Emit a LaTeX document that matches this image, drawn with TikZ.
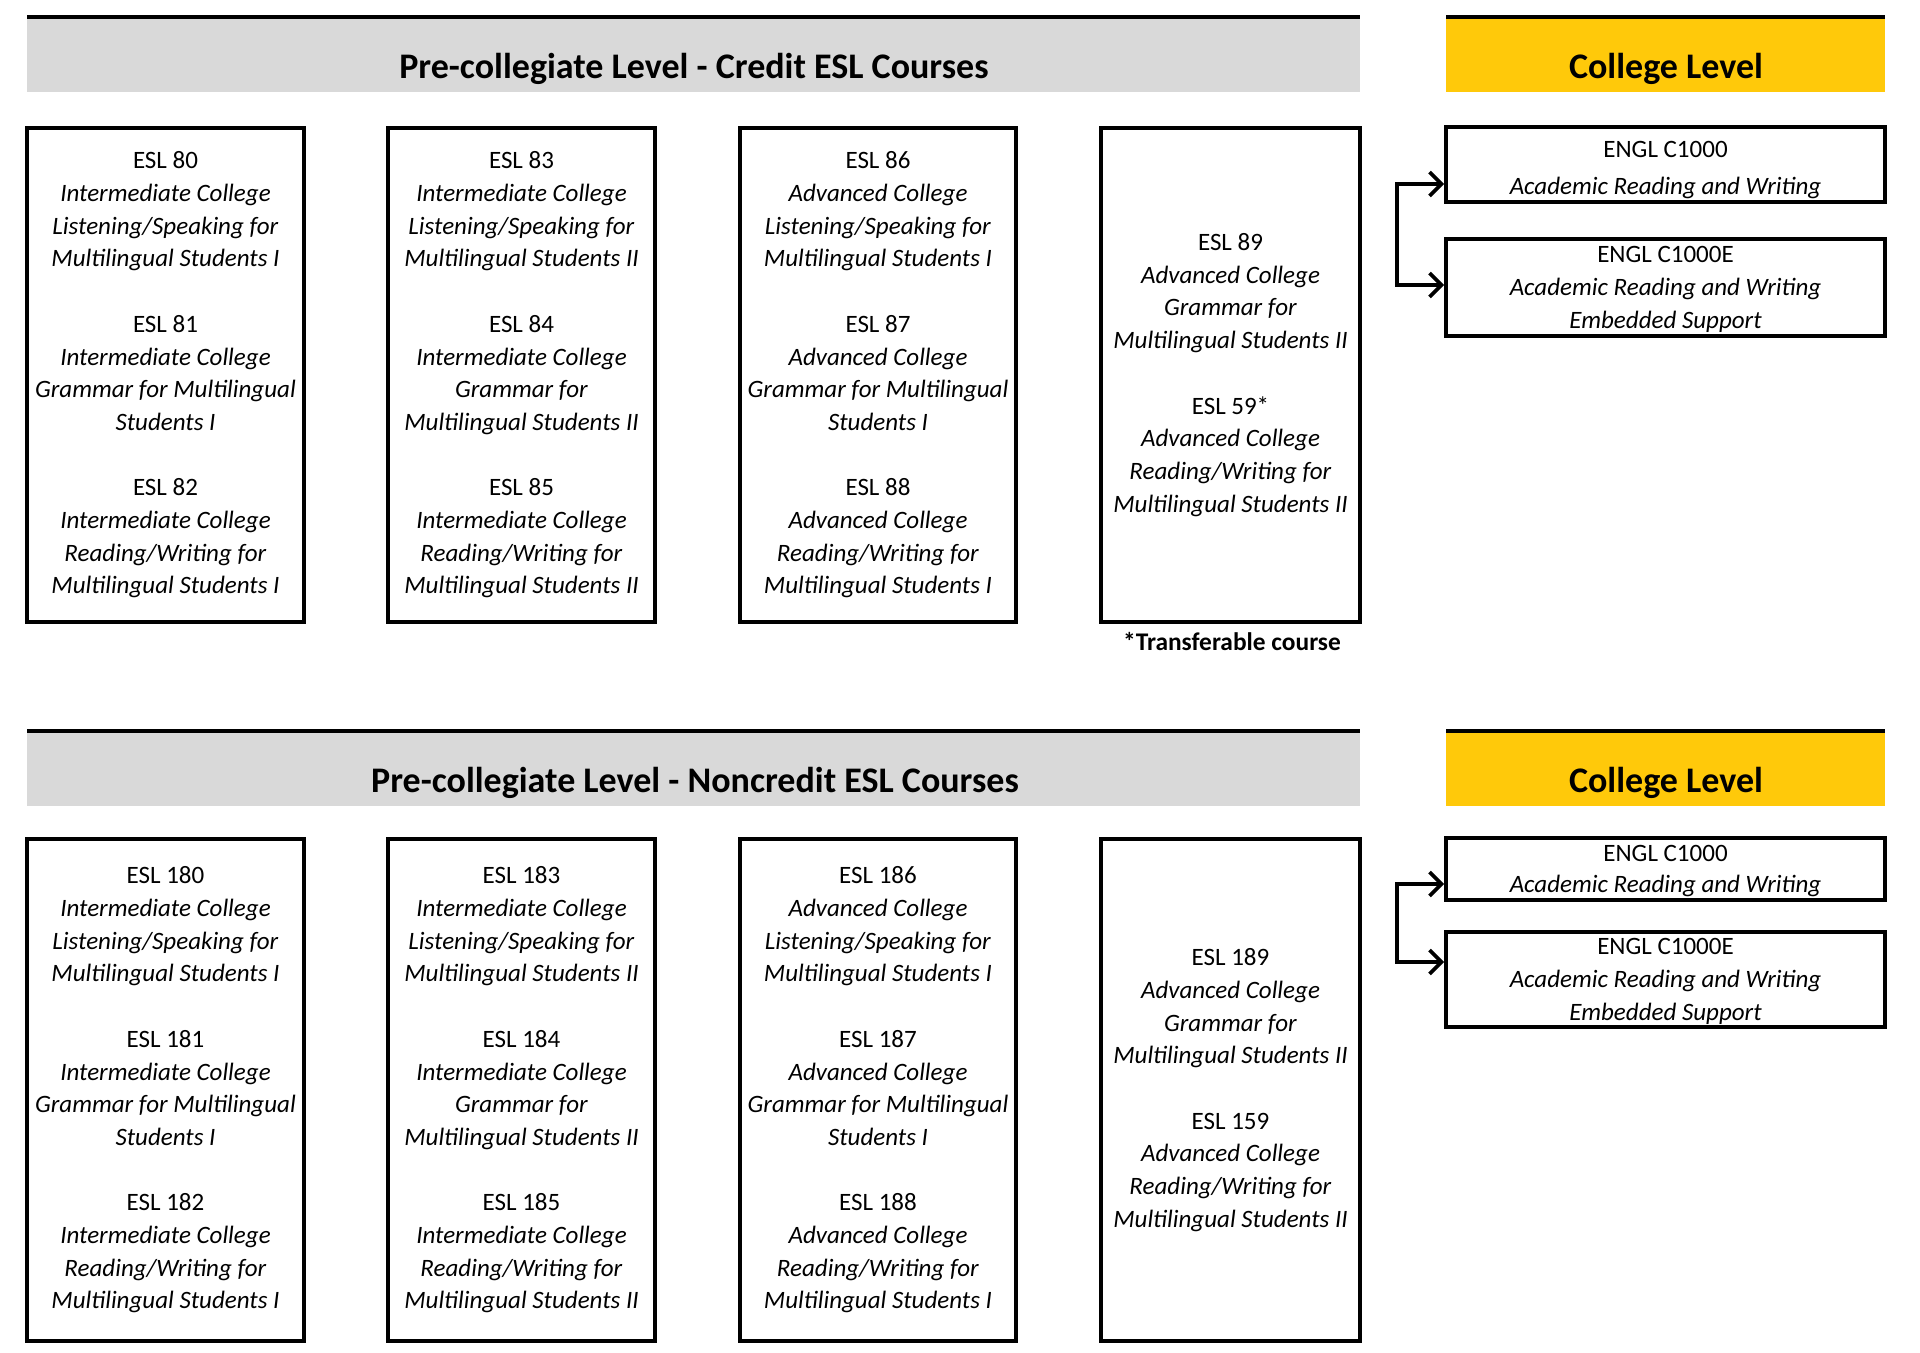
\documentclass[tikz,border=0pt]{standalone}
\usepackage{fontspec}
\setmainfont{Carlito}
\usetikzlibrary{arrows.meta}
\definecolor{bandgrey}{HTML}{D9D9D9}
\definecolor{bandgold}{HTML}{FFC90A}
\begin{document}
\begin{tikzpicture}[x=0.5pt,y=-0.5pt,
  course/.style={draw, line width=1.8pt, align=center, inner sep=0pt, font=\fontsize{12.5}{16.35}\selectfont},
  greyband/.style={fill=bandgrey, inner sep=0pt, outer sep=0pt, minimum width=666.5pt, minimum height=37.5pt},
  goldband/.style={fill=bandgold, inner sep=0pt, outer sep=0pt, minimum width=219.5pt, minimum height=37.5pt},
  topline/.style={line width=1.6pt},
  title/.style={font=\fontsize{18}{21}\selectfont\bfseries, inner sep=0pt},
  note/.style={font=\fontsize{12.7}{15}\selectfont\bfseries, inner sep=0pt},
  link/.style={line width=1.9pt, line join=miter, {Straight Barb[length=6pt,width=12pt]}-{Straight Barb[length=6pt,width=12pt]}},
  wA/.style={minimum width=138.5pt}, wB/.style={minimum width=133.5pt},
  wC/.style={minimum width=138pt}, wD/.style={minimum width=129.5pt},
  wR/.style={minimum width=219.5pt},
  hRow1/.style={minimum height=247pt}, hRow2/.style={minimum height=251pt}
]
\useasboundingbox[fill=white] (0,0) rectangle (1920,1353);

% ---------- headers ----------
\node[greyband] (g1) at (693.5,54.5) {};
\draw[topline] (g1.north west) -- (g1.north east);
\node[title] (t1) at (694,69) {Pre-collegiate Level - Credit ESL Courses};
\node[goldband] (y1) at (1665.5,54.5) {};
\draw[topline] (y1.north west) -- (y1.north east);
\node[title] (ty1) at (1666,69) {College Level};

\node[greyband] (g2) at (693.5,768.5) {};
\draw[topline] (g2.north west) -- (g2.north east);
\node[title] (t2) at (695,783) {Pre-collegiate Level - Noncredit ESL Courses};
\node[goldband] (y2) at (1665.5,768.5) {};
\draw[topline] (y2.north west) -- (y2.north east);
\node[title] (ty2) at (1666,783) {College Level};

% ---------- row 1 ----------
\node[course,wA,hRow1] (a1) at (165.5,375) {ESL 80\\ \textit{Intermediate College}\\ \textit{Listening/Speaking for}\\ \textit{Multilingual Students I}\\[16.35pt]
ESL 81\\ \textit{Intermediate College}\\ \textit{Grammar for Multilingual}\\ \textit{Students I}\\[16.35pt]
ESL 82\\ \textit{Intermediate College}\\ \textit{Reading/Writing for}\\ \textit{Multilingual Students I}};

\node[course,wB,hRow1] (b1) at (521.5,375) {ESL 83\\ \textit{Intermediate College}\\ \textit{Listening/Speaking for}\\ \textit{Multilingual Students II}\\[16.35pt]
ESL 84\\ \textit{Intermediate College}\\ \textit{Grammar for}\\ \textit{Multilingual Students II}\\[16.35pt]
ESL 85\\ \textit{Intermediate College}\\ \textit{Reading/Writing for}\\ \textit{Multilingual Students II}};

\node[course,wC,hRow1] (c1) at (878,375) {ESL 86\\ \textit{Advanced College}\\ \textit{Listening/Speaking for}\\ \textit{Multilingual Students I}\\[16.35pt]
ESL 87\\ \textit{Advanced College}\\ \textit{Grammar for Multilingual}\\ \textit{Students I}\\[16.35pt]
ESL 88\\ \textit{Advanced College}\\ \textit{Reading/Writing for}\\ \textit{Multilingual Students I}};

\node[course,wD,hRow1] (d1) at (1230.5,375) {ESL 89\\ \textit{Advanced College}\\ \textit{Grammar for}\\ \textit{Multilingual Students II}\\[16.35pt]
ESL 59*\\ \textit{Advanced College}\\ \textit{Reading/Writing for}\\ \textit{Multilingual Students II}};

\node[note] (n1) at (1232,642) {*Transferable course};

\node[course,wR,minimum height=37.5pt] (e1) at (1665.5,164.5) {\rule{0pt}{14pt}ENGL C1000\\[2.2pt] \textit{Academic Reading and Writing}};
\node[course,wR,minimum height=48.5pt] (f1) at (1665.5,287.5) {\rule{0pt}{10pt}ENGL C1000E\\ \textit{Academic Reading and Writing}\\ \textit{Embedded Support}};

\coordinate (j1) at (1397,184);
\coordinate (k1) at (1397,285);
\draw[link] (e1.west |- j1) -- (j1) -- (k1) -- (f1.west |- k1);

% ---------- row 2 ----------
\node[course,wA,hRow2] (a2) at (165.5,1090) {ESL 180\\ \textit{Intermediate College}\\ \textit{Listening/Speaking for}\\ \textit{Multilingual Students I}\\[16.35pt]
ESL 181\\ \textit{Intermediate College}\\ \textit{Grammar for Multilingual}\\ \textit{Students I}\\[16.35pt]
ESL 182\\ \textit{Intermediate College}\\ \textit{Reading/Writing for}\\ \textit{Multilingual Students I}};

\node[course,wB,hRow2] (b2) at (521.5,1090) {ESL 183\\ \textit{Intermediate College}\\ \textit{Listening/Speaking for}\\ \textit{Multilingual Students II}\\[16.35pt]
ESL 184\\ \textit{Intermediate College}\\ \textit{Grammar for}\\ \textit{Multilingual Students II}\\[16.35pt]
ESL 185\\ \textit{Intermediate College}\\ \textit{Reading/Writing for}\\ \textit{Multilingual Students II}};

\node[course,wC,hRow2] (c2) at (878,1090) {ESL 186\\ \textit{Advanced College}\\ \textit{Listening/Speaking for}\\ \textit{Multilingual Students I}\\[16.35pt]
ESL 187\\ \textit{Advanced College}\\ \textit{Grammar for Multilingual}\\ \textit{Students I}\\[16.35pt]
ESL 188\\ \textit{Advanced College}\\ \textit{Reading/Writing for}\\ \textit{Multilingual Students I}};

\node[course,wD,hRow2] (d2) at (1230.5,1090) {ESL 189\\ \textit{Advanced College}\\ \textit{Grammar for}\\ \textit{Multilingual Students II}\\[16.35pt]
ESL 159\\ \textit{Advanced College}\\ \textit{Reading/Writing for}\\ \textit{Multilingual Students II}};

\node[course,wR,minimum height=31pt] (e2) at (1665.5,869) {\rule{0pt}{10pt}ENGL C1000\\[-0.85pt] \textit{Academic Reading and Writing}};
\node[course,wR,minimum height=47.5pt] (f2) at (1665.5,979.5) {\rule{0pt}{10pt}ENGL C1000E\\ \textit{Academic Reading and Writing}\\ \textit{Embedded Support}};

\coordinate (j2) at (1397,884);
\coordinate (k2) at (1397,962);
\draw[link] (e2.west |- j2) -- (j2) -- (k2) -- (f2.west |- k2);
\end{tikzpicture}
\end{document}
